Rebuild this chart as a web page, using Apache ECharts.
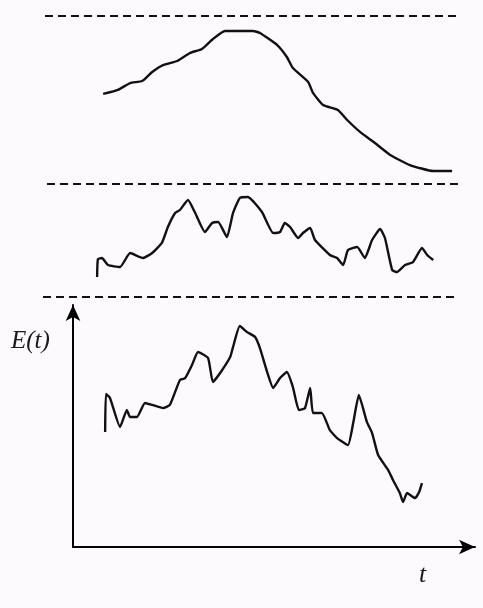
<!DOCTYPE html>
<html>
<head>
<meta charset="utf-8">
<script src="https://cdn.jsdelivr.net/npm/echarts@6/dist/echarts.min.js"></script>
<style>
  html, body { margin: 0; padding: 0; background: #fdfafd; }
  #chart { width: 483px; height: 608px; }
</style>
</head>
<body>
<div id="chart"></div>
<script>
// Top panel: smooth trend component
const trendT = [7.5, 11.2, 14.2, 17.2, 19.7, 22.4, 25.9, 29.1, 32.1, 34.8, 37.8, 44.8, 46.5, 50.8, 53.2, 54.7, 58.5, 59.7, 62.2, 65.9, 68.2, 71.4, 75.1, 78.9, 83.8, 89.6, 94.3];
const trendE = [53.6, 56.0, 60.1, 61.3, 66.7, 70.8, 73.2, 78.0, 80.4, 86.3, 91.1, 91.1, 89.9, 82.7, 75.6, 69.0, 60.7, 54.2, 47.0, 44.0, 38.1, 31.0, 24.4, 17.3, 11.3, 7.7, 7.7];

// Middle panel: fluctuating component
const noiseT = [6.0, 6.2, 7.2, 8.7, 11.7, 14.2, 17.4, 19.7, 22.1, 23.6, 25.4, 26.6, 28.6, 30.4, 32.8, 34.6, 36.1, 38.3, 39.8, 41.5, 43.5, 47.0, 49.8, 51.5, 52.7, 54.0, 56.0, 57.2, 59.0, 60.2, 63.9, 65.7, 67.2, 68.4, 70.7, 72.6, 74.4, 76.4, 77.6, 79.4, 80.6, 82.6, 84.6, 86.8, 88.1, 89.6];
const noiseE = [17.7, 33.6, 34.5, 28.3, 26.5, 38.9, 34.5, 38.9, 47.8, 61.9, 74.3, 77.0, 85.8, 74.3, 57.5, 65.5, 66.4, 53.1, 74.3, 87.6, 88.5, 75.2, 56.6, 57.5, 65.5, 61.9, 52.2, 56.6, 61.1, 50.4, 37.2, 34.5, 28.3, 41.6, 44.2, 34.5, 50.4, 60.2, 52.2, 23.9, 22.1, 28.3, 31.0, 43.4, 37.2, 32.7];

// Bottom panel: observed signal E(t)
const signalT = [8.0, 8.2, 9.2, 11.7, 13.4, 14.2, 15.9, 17.9, 19.7, 22.4, 24.1, 26.6, 27.9, 29.6, 31.1, 33.6, 34.8, 36.6, 39.1, 39.8, 41.5, 43.3, 45.3, 46.5, 48.3, 49.8, 51.5, 53.2, 54.7, 56.2, 57.7, 59.0, 59.7, 61.9, 63.9, 65.7, 68.4, 69.7, 71.1, 73.1, 74.4, 75.9, 78.4, 79.6, 81.3, 82.1, 83.1, 85.1, 86.1, 86.8];
const signalE = [47.5, 63.2, 61.6, 49.6, 56.6, 53.7, 53.7, 59.5, 58.7, 57.4, 58.7, 69.0, 69.8, 75.2, 80.6, 78.1, 68.2, 71.9, 78.5, 82.6, 91.3, 88.8, 86.8, 82.2, 72.3, 65.7, 69.8, 72.3, 66.1, 56.6, 57.4, 65.7, 55.4, 55.4, 48.3, 45.0, 42.1, 51.2, 62.8, 51.7, 47.1, 38.0, 31.8, 27.7, 22.3, 18.6, 22.3, 20.2, 22.7, 26.4];

const yLabel = 'E(t)';
const xLabel = 't';

const pair = (xs, ys) => xs.map((x, i) => [x, ys[i]]);

const chart = echarts.init(document.getElementById('chart'), null, { renderer: 'canvas' });

const hiddenAxis = (idx) => ({
  type: 'value', gridIndex: idx, min: 0, max: 100, show: false
});

const lineSeries = (xi, yi, data) => ({
  type: 'line', xAxisIndex: xi, yAxisIndex: yi, data: data,
  showSymbol: false, smooth: 0.15, silent: true,
  lineStyle: { color: '#111', width: 2.4 }
});

const dash = (y, x1, x2) => ({
  type: 'line', silent: true,
  shape: { x1: x1, y1: y, x2: x2, y2: y },
  style: { stroke: '#111', lineWidth: 2, lineDash: [8, 5] }
});

const shownAxisStyle = {
  axisLine: { show: true, symbol: ['none', 'arrow'], symbolSize: [11, 16], lineStyle: { color: '#000', width: 2 } },
  axisTick: { show: false }, axisLabel: { show: false }, splitLine: { show: false }
};

chart.setOption({
  backgroundColor: '#fdfafd',
  animation: false,
  grid: [
    { left: 73, right: 8, top: 16, height: 168 },
    { left: 73, right: 8, top: 184, height: 113 },
    { left: 73, right: 8, top: 305, height: 242 }
  ],
  xAxis: [
    hiddenAxis(0),
    hiddenAxis(1),
    Object.assign({ type: 'value', gridIndex: 2, min: 0, max: 100 }, shownAxisStyle)
  ],
  yAxis: [
    hiddenAxis(0),
    hiddenAxis(1),
    Object.assign({ type: 'value', gridIndex: 2, min: 0, max: 100 }, shownAxisStyle)
  ],
  series: [
    lineSeries(0, 0, pair(trendT, trendE)),
    lineSeries(1, 1, pair(noiseT, noiseE)),
    lineSeries(2, 2, pair(signalT, signalE))
  ],
  graphic: [
    dash(16, 45, 458),
    dash(184, 47, 458),
    dash(297, 43, 458),
    {
      type: 'text', left: 11, top: 329,
      style: { text: yLabel, font: 'italic 25px "Liberation Serif", "DejaVu Serif", serif', fill: '#1a1a1a' }
    },
    {
      type: 'text', left: 419, top: 562,
      style: { text: xLabel, font: 'italic 26px "Liberation Serif", "DejaVu Serif", serif', fill: '#1a1a1a' }
    }
  ]
});
</script>
</body>
</html>
